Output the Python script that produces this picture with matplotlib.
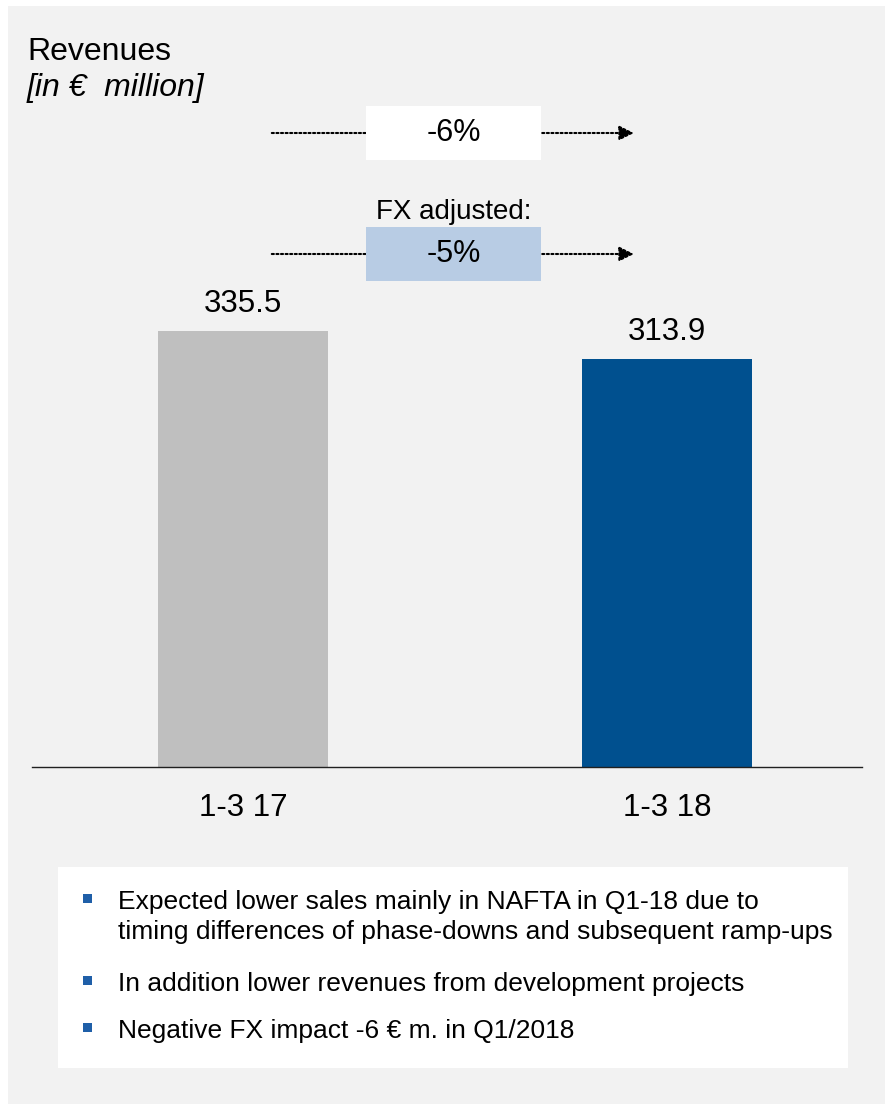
import matplotlib.pyplot as plt
from matplotlib.patches import Rectangle

plt.rcParams['font.family'] = ['Liberation Sans', 'DejaVu Sans']

# data
categories = ['1-3 17', '1-3 18']
revenues = [335.5, 313.9]
bar_colors = ['#bfbfbf', '#00508f']
change_total = '-6%'
change_fx = '-5%'
bullets = [
    'Expected lower sales mainly in NAFTA in Q1-18 due to\ntiming differences of phase-downs and subsequent ramp-ups',
    'In addition lower revenues from development projects',
    'Negative FX impact -6 \u20ac m. in Q1/2018',
]

W, H = 885, 1104
fig = plt.figure(figsize=(W / 100, H / 100), dpi=100)
fig.patch.set_facecolor('white')

def fx(px):
    return px / W

def fy(py):
    return 1 - py / H

# grey panel
fig.patches.append(Rectangle((fx(8), 0), 1 - fx(8), fy(6), transform=fig.transFigure,
                             facecolor='#f2f2f2', edgecolor='none', zorder=-2))

# chart area: baseline at y=767 px, left 32 px, right 862 px
ax = fig.add_axes([fx(32), fy(767), fx(862 - 32), (767 - 6) / H])
ax.set_zorder(2)
ax.set_facecolor('none')
k = 1.2996  # px per data unit
ax.set_ylim(0, (767 - 6) / k)
ax.set_xlim(-0.4976, 1.46)

xs = [0, 1]
ax.bar(xs, revenues, width=0.401, color=bar_colors, zorder=2)
for x, v in zip(xs, revenues):
    ax.text(x, v + 19 / k, f'{v:.1f}', ha='center', va='baseline', fontsize=22.5)

for s in ['top', 'right', 'left']:
    ax.spines[s].set_visible(False)
ax.spines['bottom'].set_color('#202020')
ax.spines['bottom'].set_linewidth(1.0)
ax.set_yticks([])
ax.set_xticks(xs)
ax.set_xticklabels(categories, fontsize=22.5)
ax.tick_params(axis='x', length=0, pad=18.5)

# change arrows with boxes
def py2d(py):
    return (767 - py) / k

for ya, label, fc in [(133, change_total, 'white'), (254, change_fx, '#b8cce4')]:
    y = py2d(ya)
    ax.annotate('', xy=(0.922, y), xytext=(0.068, y),
                arrowprops=dict(arrowstyle='-|>', linestyle=(0, (1, 1.2)), lw=1.5,
                                color='black', mutation_scale=22, shrinkA=0, shrinkB=0))
    ax.add_patch(Rectangle((0.290, py2d(ya + 27)), 0.413, 54 / k,
                           facecolor=fc, edgecolor='none', zorder=3, clip_on=False))
    ax.text(0.4965, y, label, ha='center', va='center', fontsize=22, zorder=4)

ax.text(0.4965, py2d(212), 'FX adjusted:', ha='center', va='center', fontsize=20)

# title
fig.text(fx(27), fy(52), 'Revenues', fontsize=23, va='center', ha='left')
fig.text(fx(27), fy(88), '[in \u20ac  million]', fontsize=23, va='center', ha='left', style='italic')

# bullet box
fig.patches.append(Rectangle((fx(58), fy(1068)), fx(848 - 58), (1068 - 867) / H,
                             transform=fig.transFigure, facecolor='white', edgecolor='none', zorder=-1))
bullet_y = [898, 980, 1027]
for by, txt in zip(bullet_y, bullets):
    fig.patches.append(Rectangle((fx(83), fy(by + 4.5)), fx(9), 9 / H, transform=fig.transFigure,
                                 facecolor='#1f5fa8', edgecolor='none', zorder=1))
    fig.text(fx(118), fy(by - 8), txt, fontsize=19, va='top', ha='left',
             linespacing=1.32, zorder=3)

fig.savefig('out.png', dpi=100)
